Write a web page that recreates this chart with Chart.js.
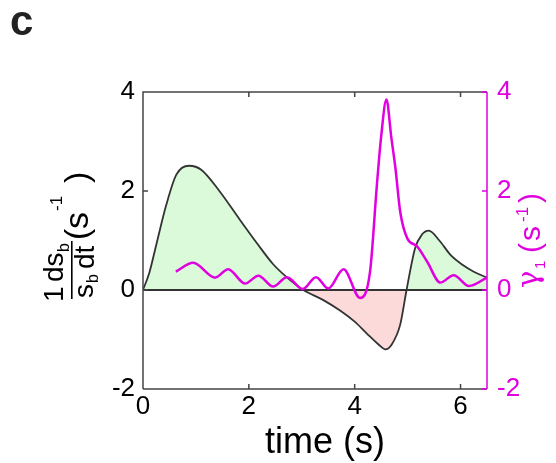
<!DOCTYPE html>
<html>
<head>
<meta charset="utf-8">
<script src="https://cdn.jsdelivr.net/npm/chart.js@4.4.1/dist/chart.umd.min.js"></script>
<style>
  html, body { margin: 0; padding: 0; background: #fff; }
  #wrap { width: 556px; height: 463px; }
</style>
</head>
<body>
<div id="wrap"><canvas id="chart" width="556" height="463"></canvas></div>
<script>
// (1/s_b) ds_b/dt, black curve, left axis
const sTime = [0, 0.12, 0.25, 0.44, 0.63, 0.87, 1.1, 1.45, 1.83, 2.15, 2.46, 2.78, 3.03, 3.4, 3.73, 4.0, 4.23, 4.45, 4.58, 4.7, 4.86, 4.98, 5.14, 5.27, 5.4, 5.6, 5.81, 6.05, 6.25, 6.5];
const sRate = [0, 0.35, 0.91, 1.72, 2.33, 2.51, 2.43, 1.99, 1.42, 0.95, 0.52, 0.2, 0, -0.2, -0.42, -0.64, -0.88, -1.1, -1.2, -1.1, -0.7, 0, 0.84, 1.12, 1.2, 1.0, 0.71, 0.5, 0.37, 0.25];

// gamma_1, magenta curve, right axis
const gTime = [0.62, 0.95, 1.36, 1.61, 1.93, 2.18, 2.46, 2.72, 3.02, 3.27, 3.5, 3.79, 4.1, 4.29, 4.42, 4.5, 4.6, 4.69, 4.77, 4.86, 4.99, 5.18, 5.37, 5.62, 5.87, 6.16, 6.5];
const gRate = [0.37, 0.55, 0.25, 0.42, 0.13, 0.29, 0.07, 0.26, 0.02, 0.26, 0.03, 0.42, -0.16, 0.37, 2.13, 3.1, 3.85, 3.1, 2.46, 1.58, 1.05, 0.88, 0.57, 0.15, 0.3, 0.08, 0.25];

const xTicks = [0, 2, 4, 6];
const yTicks = [-2, 0, 2, 4];
const y2Ticks = [-2, 0, 2, 4];

const MAGENTA = "#e000e0";
const DARK = "#333333";
const FONT = '"Liberation Sans", Arial, sans-serif';

function pts(xs, ys) {
  return xs.map((x, i) => ({ x: x, y: ys[i] }));
}

// frame, inward ticks, titles
const decor = {
  id: "decor",
  afterDatasetsDraw(chart) {
    const ctx = chart.ctx;
    const a = chart.chartArea;
    const sx = chart.scales.x, sy = chart.scales.y, sy2 = chart.scales.y2;
    ctx.save();
    ctx.lineWidth = 1.5;
    ctx.strokeStyle = "#444";
    ctx.beginPath();
    ctx.moveTo(a.left, a.bottom);
    ctx.lineTo(a.left, a.top);
    ctx.lineTo(a.right, a.top);
    ctx.moveTo(a.left, a.bottom);
    ctx.lineTo(a.right, a.bottom);
    xTicks.forEach(v => {
      const px = sx.getPixelForValue(v);
      ctx.moveTo(px, a.bottom);
      ctx.lineTo(px, a.bottom - 5);
      ctx.moveTo(px, a.top);
      ctx.lineTo(px, a.top + 5);
    });
    yTicks.forEach(v => {
      const py = sy.getPixelForValue(v);
      ctx.moveTo(a.left, py);
      ctx.lineTo(a.left + 5, py);
    });
    ctx.stroke();
    ctx.strokeStyle = MAGENTA;
    ctx.beginPath();
    ctx.moveTo(a.right, a.top);
    ctx.lineTo(a.right, a.bottom);
    y2Ticks.forEach(v => {
      const py = sy2.getPixelForValue(v);
      ctx.moveTo(a.right, py);
      ctx.lineTo(a.right - 5, py);
    });
    ctx.stroke();
    ctx.restore();
  },
  afterDraw(chart) {
    const ctx = chart.ctx;
    ctx.save();
    ctx.textAlign = "left";
    ctx.textBaseline = "alphabetic";

    // panel letter
    ctx.fillStyle = "#222";
    ctx.font = "bold 42px " + FONT;
    ctx.fillText("c", 10, 35);

    // x title
    ctx.fillStyle = "#000";
    ctx.textAlign = "center";
    ctx.font = "36px " + FONT;
    ctx.fillText("time (s)", 325, 453);
    ctx.textAlign = "left";

    // left title: 1/s_b ds_b/dt (s^-1)
    ctx.save();
    ctx.translate(0, 302);
    ctx.rotate(-Math.PI / 2);
    ctx.font = "28px " + FONT;
    ctx.fillText("1", 0, 63);
    ctx.fillText("ds", 20, 63);
    ctx.fillText("s", 4, 93);
    ctx.fillText("dt", 33, 94);
    ctx.font = "16px " + FONT;
    ctx.fillText("b", 50, 69);
    ctx.fillText("b", 19, 98);
    ctx.fillRect(3, 71, 58, 1.6);
    ctx.font = "34px " + FONT;
    ctx.fillText("(", 62, 88);
    ctx.fillText("s", 73, 88);
    ctx.fillText(")", 119, 88);
    ctx.font = "17px " + FONT;
    ctx.fillText("-1", 91, 62);
    ctx.restore();

    // right title: gamma_1 (s^-1)
    ctx.save();
    ctx.fillStyle = MAGENTA;
    ctx.translate(0, 288);
    ctx.rotate(-Math.PI / 2);
    ctx.font = '29px "DejaVu Serif", serif';
    ctx.fillText("\u03b3", 0, 538);
    ctx.font = "30px " + FONT;
    ctx.fillText("(", 35, 540);
    ctx.fillText("s", 47, 540);
    ctx.fillText(")", 85, 540);
    ctx.font = "15px " + FONT;
    ctx.fillText("1", 19, 545);
    ctx.font = "17px " + FONT;
    ctx.fillText("-1", 66, 528);
    ctx.restore();

    ctx.restore();
  }
};

const ctx = document.getElementById("chart").getContext("2d");

new Chart(ctx, {
  type: "line",
  data: {
    datasets: [
      {
        label: "gamma1",
        data: pts(gTime, gRate),
        yAxisID: "y2",
        borderColor: MAGENTA,
        borderWidth: 2.5,
        pointRadius: 0,
        cubicInterpolationMode: "monotone",
        fill: false,
        order: 0,
      },
      {
        label: "zero",
        data: pts([0, 6.5], [0, 0]),
        yAxisID: "y",
        borderColor: DARK,
        borderWidth: 2,
        pointRadius: 0,
        fill: false,
        order: 1,
      },
      {
        label: "ds/dt",
        data: pts(sTime, sRate),
        yAxisID: "y",
        borderColor: DARK,
        borderWidth: 1.8,
        pointRadius: 0,
        cubicInterpolationMode: "monotone",
        fill: {
          target: "origin",
          above: "rgba(214, 250, 214, 0.9)",
          below: "rgba(252, 214, 214, 0.9)",
        },
        order: 2,
      },
    ],
  },
  options: {
    responsive: false,
    devicePixelRatio: 1,
    animation: false,
    layout: { padding: { top: 92, left: 0, right: 0, bottom: 0 } },
    plugins: {
      legend: { display: false },
      tooltip: { enabled: false },
    },
    scales: {
      x: {
        type: "linear",
        min: 0,
        max: 6.5,
        afterBuildTicks: (s) => { s.ticks = xTicks.map(v => ({ value: v })); },
        afterFit: (s) => { s.height = 74; },
        grid: { display: false, drawTicks: false },
        border: { display: false },
        ticks: {
          padding: 2,
          color: "#000",
          font: { family: FONT, size: 26 },
        },
      },
      y: {
        position: "left",
        min: -2,
        max: 4,
        afterBuildTicks: (s) => { s.ticks = yTicks.map(v => ({ value: v })); },
        afterFit: (s) => { s.width = 143; },
        grid: { display: false, drawTicks: false },
        border: { display: false },
        ticks: {
          padding: 8,
          color: "#000",
          font: { family: FONT, size: 26 },
        },
      },
      y2: {
        position: "right",
        min: -2,
        max: 4,
        afterBuildTicks: (s) => { s.ticks = y2Ticks.map(v => ({ value: v })); },
        afterFit: (s) => { s.width = 69; },
        grid: { display: false, drawTicks: false },
        border: { display: false },
        ticks: {
          padding: 10,
          color: MAGENTA,
          font: { family: FONT, size: 26 },
        },
      },
    },
  },
  plugins: [decor],
});
</script>
</body>
</html>
